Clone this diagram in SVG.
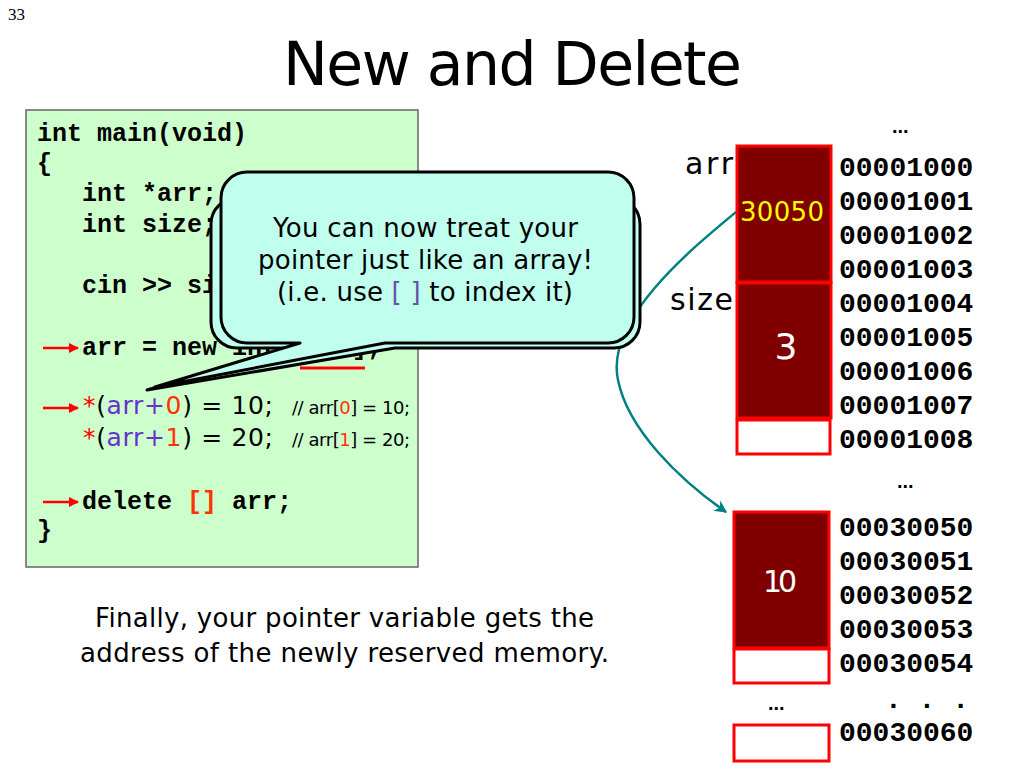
<svg xmlns="http://www.w3.org/2000/svg" width="1024" height="768" viewBox="0 0 1024 768">
<style>
.code{font-family:"Liberation Mono","Courier New",monospace;font-weight:bold;font-size:25px;fill:#000}
.comic{font-family:"DejaVu Sans","Noto Sans",sans-serif;fill:#000}
.addr{font-family:"Liberation Mono","Courier New",monospace;font-weight:bold;font-size:28px;fill:#000}
.dots{font-family:"Liberation Sans",Arial,sans-serif;font-size:20px;font-weight:bold;fill:#000}
.cell{fill:#800000;stroke:#FF0000;stroke-width:3}
.empty{fill:#FFFFFF;stroke:#FF0000;stroke-width:3}
.redarrow{stroke:#FF0000;stroke-width:2.5;fill:none;marker-end:url(#redhead)}
.purple{fill:#6633CC}
.orange{fill:#FF3300}
.red{fill:#FF0000}
</style>
<defs>
<marker id="redhead" viewBox="0 0 10 10" refX="9" refY="5" markerWidth="4" markerHeight="4" orient="auto" markerUnits="strokeWidth">
<path d="M0,0 L10,5 L0,10 Z" fill="#FF0000"/>
</marker>
<marker id="tealhead" viewBox="0 0 10 10" refX="9" refY="5" markerWidth="5" markerHeight="5" orient="auto" markerUnits="strokeWidth">
<path d="M0,0 L10,5 L0,10 L3,5 Z" fill="#008080"/>
</marker>
</defs>
<rect width="1024" height="768" fill="#FFFFFF"/>
<text x="8" y="20" font-family="Liberation Serif,serif" font-size="17">33</text>
<text x="283" y="85" class="comic" font-size="60" textLength="459">New and Delete</text>

<g id="code">
<rect x="26" y="110" width="392" height="457" fill="#CCFFCC" stroke="#666666" stroke-width="1.5"/>
<text class="code" x="37" y="141">int main(void)</text>
<text class="code" x="37" y="171">{</text>
<text class="code" x="82" y="201">int *arr;</text>
<text class="code" x="82" y="232">int size;</text>
<text class="code" x="82" y="293">cin &gt;&gt; size;</text>
<text class="code" x="82" y="355">arr = new int[size];</text>
<line x1="300" y1="368" x2="365" y2="368" stroke="#FF0000" stroke-width="3"/>
<text class="comic" x="83" y="414" font-size="25" textLength="190"><tspan class="red">*</tspan>(<tspan class="purple">arr+</tspan><tspan class="orange">0</tspan>) = 10;</text>
<text class="comic" x="292" y="414" font-size="18" textLength="118">// arr[<tspan class="orange">0</tspan>] = 10;</text>
<text class="comic" x="83" y="446" font-size="25" textLength="190"><tspan class="red">*</tspan>(<tspan class="purple">arr+</tspan><tspan class="orange">1</tspan>) = 20;</text>
<text class="comic" x="292" y="446" font-size="18" textLength="118">// arr[<tspan class="orange">1</tspan>] = 20;</text>
<text class="code" x="82" y="509">delete <tspan fill="#FF3300">[]</tspan> arr;</text>
<text class="code" x="37" y="538">}</text>
<line class="redarrow" x1="43" y1="348" x2="78" y2="348"/>
<line class="redarrow" x1="43" y1="408" x2="78" y2="408"/>
<line class="redarrow" x1="43" y1="502" x2="78" y2="502"/>
</g>

<g id="connectors">
<path d="M736,212 C690,250 605,320 618,380 C628,430 680,480 726,512" fill="none" stroke="#008080" stroke-width="2.5" marker-end="url(#tealhead)"/>
</g>

<g id="callout">
<path d="M237,198 H614 A26,26 0 0 1 640,224 V322 A26,26 0 0 1 614,348 H395 L147,390 L290,348 H237 A26,26 0 0 1 211,322 V224 A26,26 0 0 1 237,198 Z" fill="#C0FFEE" stroke="#000" stroke-width="3" stroke-linejoin="round"/>
<path d="M247,172 H608 A26,26 0 0 1 634,198 V317 A26,26 0 0 1 608,343 H385 L155,387 L300,343 H247 A26,26 0 0 1 221,317 V198 A26,26 0 0 1 247,172 Z" fill="#C0FFEE" stroke="#000" stroke-width="3" stroke-linejoin="round"/>
<text class="comic" x="273" y="237" font-size="26" textLength="305">You can now treat your</text>
<text class="comic" x="258" y="269" font-size="26" textLength="335">pointer just like an array!</text>
<text class="comic" x="277" y="301" font-size="26" textLength="296">(i.e. use <tspan fill="#6A4FA8">[ ]</tspan> to index it)</text>
</g>

<g id="memory-top">
<text class="comic" x="685" y="174" font-size="30" textLength="48">arr</text>
<text class="comic" x="670" y="310" font-size="30" textLength="63">size</text>
<text class="dots" x="892" y="133">...</text>
<g id="cell-arr">
<rect class="cell" x="737" y="146" width="94" height="136"/>
<text class="comic" x="740" y="221" font-size="26" textLength="84" style="fill:#FFFF00">30050</text>
</g>
<g id="cell-size">
<rect class="cell" x="737" y="283" width="94" height="135"/>
<text class="comic" x="786" y="359" font-size="36" text-anchor="middle" style="fill:#FFFFFF">3</text>
</g>
<rect class="empty" x="737" y="420" width="93" height="34"/>
<text class="addr" x="839" y="176">00001000</text>
<text class="addr" x="839" y="210">00001001</text>
<text class="addr" x="839" y="244">00001002</text>
<text class="addr" x="839" y="278">00001003</text>
<text class="addr" x="839" y="312">00001004</text>
<text class="addr" x="839" y="346">00001005</text>
<text class="addr" x="839" y="380">00001006</text>
<text class="addr" x="839" y="414">00001007</text>
<text class="addr" x="839" y="448">00001008</text>
<text class="dots" x="897" y="488">...</text>
</g>

<g id="memory-heap">
<g id="cell-heap">
<rect class="cell" x="734" y="512" width="95" height="136"/>
<text class="comic" x="763" y="592" font-size="30" textLength="34" style="fill:#FFFFFF">10</text>
</g>
<rect class="empty" x="734" y="649" width="95" height="34"/>
<text class="dots" x="768" y="710">...</text>
<rect class="empty" x="734" y="725" width="95" height="36"/>
<text class="addr" x="839" y="536">00030050</text>
<text class="addr" x="839" y="570">00030051</text>
<text class="addr" x="839" y="604">00030052</text>
<text class="addr" x="839" y="638">00030053</text>
<text class="addr" x="839" y="672">00030054</text>
<text class="addr" x="885" y="708" font-size="20">. . .</text>
<text class="addr" x="839" y="741">00030060</text>
</g>

<text class="comic" x="95" y="627" font-size="26" textLength="499">Finally, your pointer variable gets the</text>
<text class="comic" x="80" y="662" font-size="26" textLength="529">address of the newly reserved memory.</text>
</svg>
